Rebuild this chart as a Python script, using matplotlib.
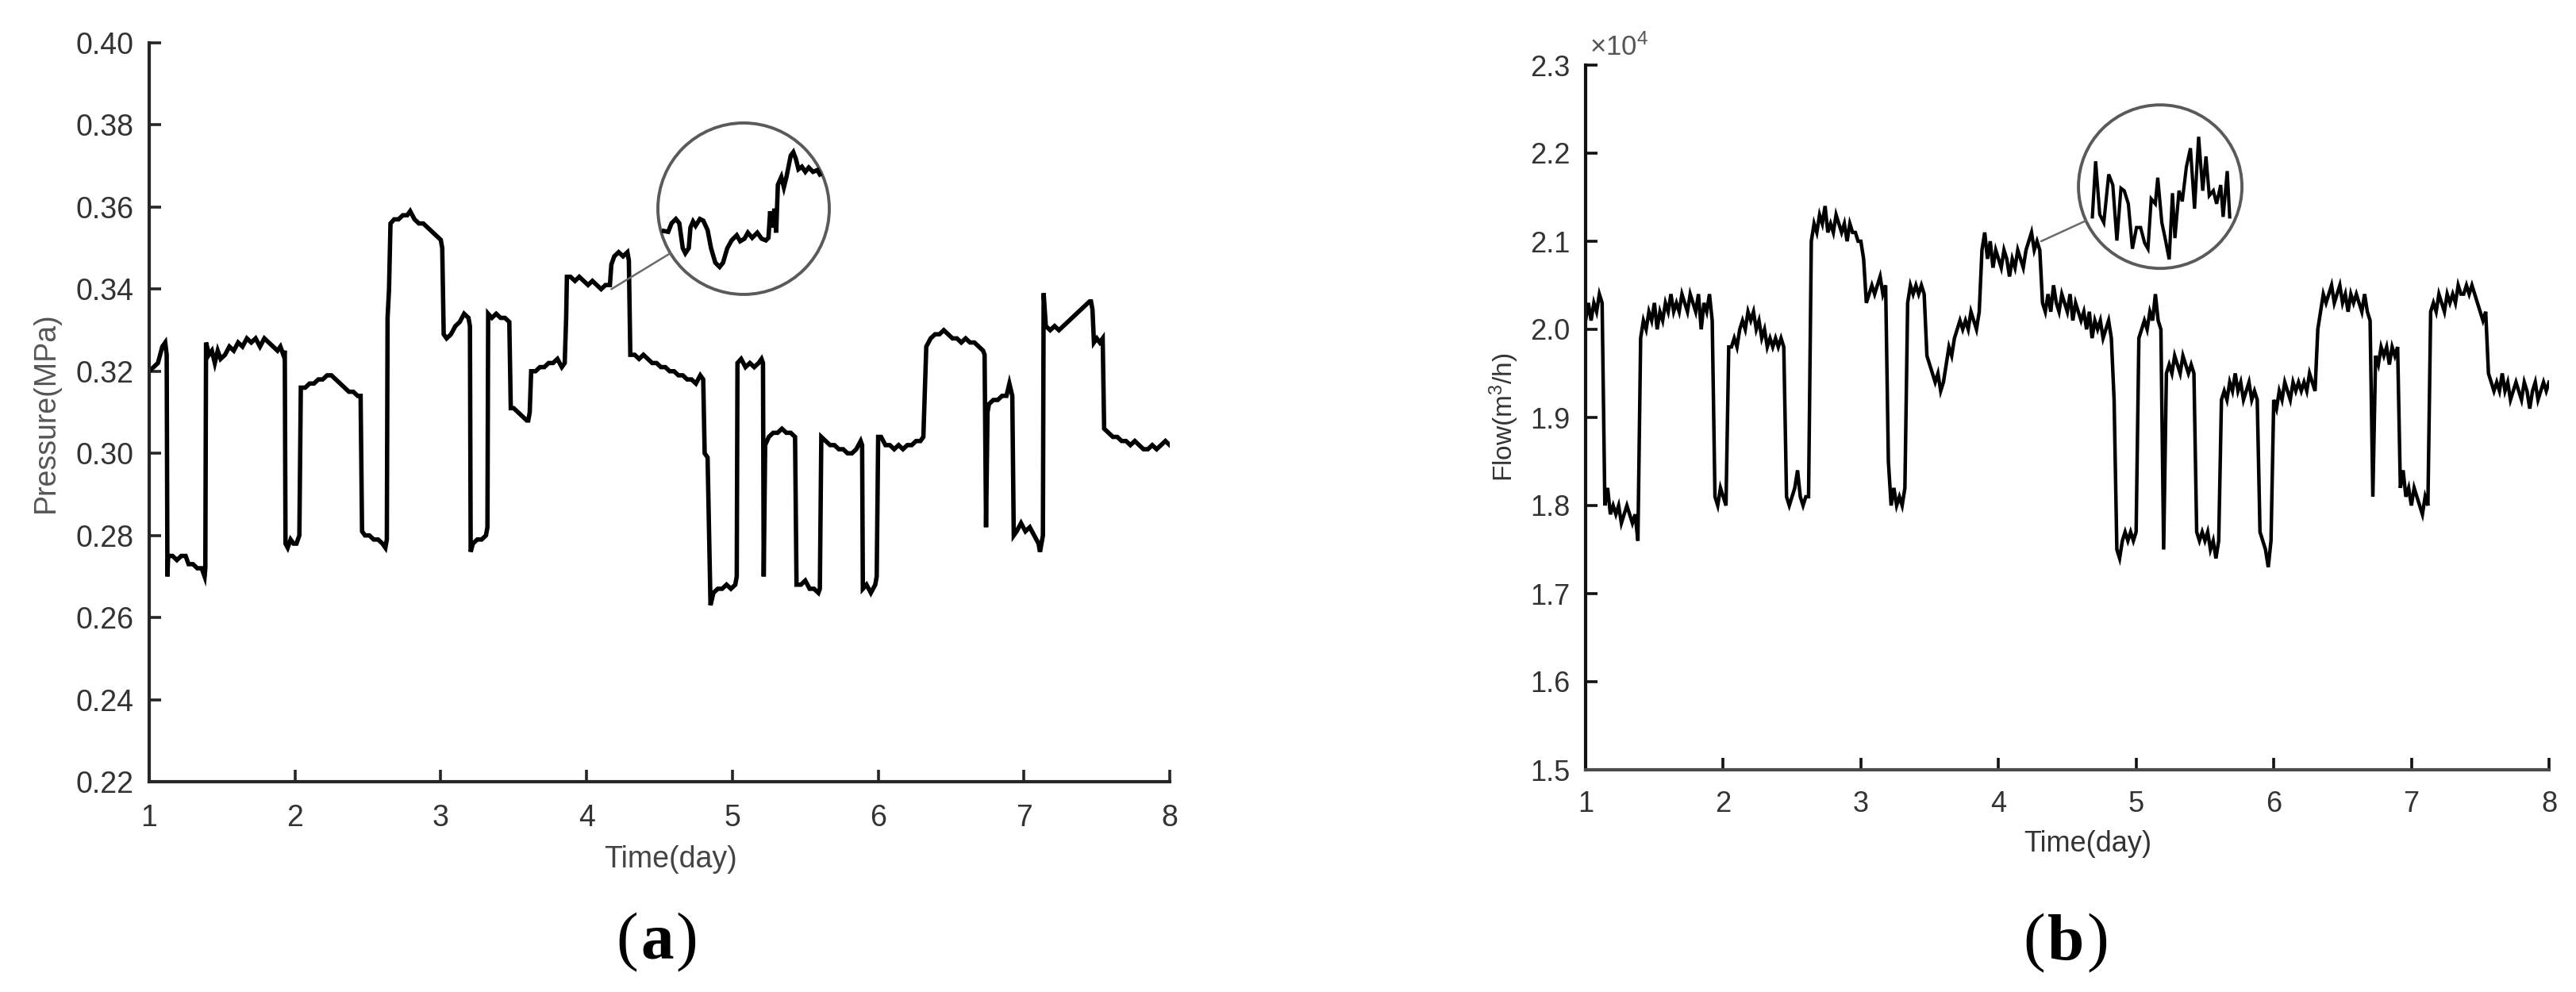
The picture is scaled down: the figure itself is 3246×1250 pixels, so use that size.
import numpy as np
import matplotlib
matplotlib.use("Agg")
import matplotlib.pyplot as plt
from matplotlib.patches import Circle, ConnectionPatch
from matplotlib.offsetbox import TextArea, HPacker, AnnotationBbox

# ---------------- data ----------------
# (a) pressure: breakpoints (day, MPa)
pressure_days = [
    1.00, 1.03, 1.06, 1.09, 1.11, 1.12, 1.125, 1.13, 1.16, 1.19, 1.22, 1.25, 1.27, 1.30, 1.33, 1.36, 1.38, 1.385,
    1.39, 1.41, 1.43, 1.45, 1.47, 1.49, 1.52, 1.55, 1.58, 1.61, 1.64, 1.67, 1.70, 1.73, 1.76, 1.79, 1.82, 1.85,
    1.88, 1.90, 1.92, 1.93, 1.935, 1.95, 1.97, 1.99, 2.01, 2.03, 2.04, 2.07, 2.10, 2.13, 2.16, 2.19, 2.22, 2.25,
    2.28, 2.31, 2.34, 2.37, 2.40, 2.43, 2.45, 2.46, 2.48, 2.51, 2.54, 2.57, 2.60, 2.62, 2.63, 2.635, 2.645, 2.655,
    2.68, 2.71, 2.74, 2.77, 2.79, 2.82, 2.85, 2.88, 2.91, 2.94, 2.97, 3.00, 3.01, 3.02, 3.04, 3.07, 3.10, 3.13,
    3.16, 3.19, 3.20, 3.205, 3.22, 3.25, 3.28, 3.31, 3.32, 3.325, 3.35, 3.38, 3.41, 3.44, 3.47, 3.48, 3.50, 3.53,
    3.56, 3.59, 3.60, 3.61, 3.62, 3.65, 3.68, 3.71, 3.74, 3.77, 3.80, 3.83, 3.85, 3.86, 3.865, 3.89, 3.92, 3.95,
    3.98, 4.01, 4.04, 4.07, 4.10, 4.13, 4.16, 4.17, 4.19, 4.22, 4.25, 4.28, 4.29, 4.30, 4.33, 4.36, 4.39, 4.42,
    4.45, 4.48, 4.51, 4.54, 4.57, 4.60, 4.63, 4.66, 4.69, 4.72, 4.75, 4.78, 4.80, 4.81, 4.83, 4.85, 4.87, 4.90,
    4.93, 4.96, 4.99, 5.02, 5.03, 5.035, 5.06, 5.09, 5.12, 5.15, 5.18, 5.20, 5.21, 5.215, 5.225, 5.25, 5.28, 5.31,
    5.34, 5.37, 5.40, 5.43, 5.44, 5.47, 5.50, 5.53, 5.56, 5.59, 5.60, 5.61, 5.64, 5.67, 5.70, 5.73, 5.76, 5.79,
    5.82, 5.85, 5.88, 5.89, 5.895, 5.92, 5.95, 5.98, 5.99, 6.00, 6.02, 6.05, 6.08, 6.11, 6.14, 6.17, 6.20, 6.23,
    6.26, 6.29, 6.31, 6.33, 6.36, 6.39, 6.42, 6.45, 6.48, 6.51, 6.54, 6.57, 6.60, 6.63, 6.66, 6.69, 6.72, 6.73,
    6.74, 6.75, 6.76, 6.79, 6.82, 6.85, 6.88, 6.90, 6.92, 6.93, 6.95, 6.98, 7.01, 7.04, 7.07, 7.10, 7.11, 7.13,
    7.135, 7.15, 7.18, 7.21, 7.24, 7.27, 7.30, 7.33, 7.36, 7.39, 7.42, 7.45, 7.46, 7.47, 7.48, 7.50, 7.52, 7.54,
    7.55, 7.58, 7.61, 7.64, 7.67, 7.70, 7.73, 7.76, 7.79, 7.82, 7.85, 7.88, 7.91, 7.94, 7.97, 8.00,
]
pressure_mpa = [
    0.320, 0.321, 0.322, 0.326, 0.327, 0.324, 0.270, 0.275, 0.275, 0.274, 0.275, 0.275, 0.273, 0.273, 0.272, 0.272, 0.270, 0.272,
    0.327, 0.324, 0.325, 0.322, 0.325, 0.323, 0.324, 0.326, 0.325, 0.327, 0.326, 0.328, 0.327, 0.328, 0.326, 0.328, 0.327, 0.326,
    0.325, 0.326, 0.324, 0.325, 0.278, 0.277, 0.279, 0.278, 0.278, 0.280, 0.316, 0.316, 0.317, 0.317, 0.318, 0.318, 0.319, 0.319,
    0.318, 0.317, 0.316, 0.315, 0.315, 0.314, 0.314, 0.281, 0.280, 0.280, 0.279, 0.279, 0.278, 0.277, 0.279, 0.333, 0.340, 0.356,
    0.357, 0.357, 0.358, 0.358, 0.359, 0.357, 0.356, 0.356, 0.355, 0.354, 0.353, 0.352, 0.350, 0.329, 0.328, 0.329, 0.331, 0.332,
    0.334, 0.333, 0.331, 0.276, 0.278, 0.279, 0.279, 0.280, 0.282, 0.334, 0.333, 0.334, 0.333, 0.333, 0.332, 0.311, 0.311, 0.310,
    0.309, 0.308, 0.308, 0.310, 0.320, 0.320, 0.321, 0.321, 0.322, 0.322, 0.323, 0.321, 0.322, 0.333, 0.343, 0.343, 0.342, 0.343,
    0.342, 0.341, 0.342, 0.341, 0.340, 0.341, 0.341, 0.346, 0.348, 0.349, 0.348, 0.349, 0.347, 0.324, 0.324, 0.323, 0.324, 0.323,
    0.322, 0.322, 0.321, 0.321, 0.320, 0.320, 0.319, 0.319, 0.318, 0.318, 0.317, 0.319, 0.318, 0.300, 0.299, 0.263, 0.266, 0.267,
    0.267, 0.268, 0.267, 0.268, 0.270, 0.322, 0.323, 0.321, 0.322, 0.321, 0.322, 0.323, 0.322, 0.270, 0.302, 0.304, 0.305, 0.305,
    0.306, 0.305, 0.305, 0.304, 0.268, 0.268, 0.269, 0.267, 0.267, 0.266, 0.267, 0.304, 0.303, 0.302, 0.302, 0.301, 0.301, 0.300,
    0.300, 0.301, 0.303, 0.302, 0.267, 0.268, 0.266, 0.268, 0.270, 0.304, 0.304, 0.302, 0.302, 0.301, 0.302, 0.301, 0.302, 0.302,
    0.303, 0.303, 0.304, 0.326, 0.328, 0.329, 0.329, 0.330, 0.329, 0.328, 0.328, 0.327, 0.328, 0.327, 0.327, 0.326, 0.325, 0.324,
    0.282, 0.310, 0.312, 0.313, 0.313, 0.314, 0.314, 0.317, 0.314, 0.280, 0.281, 0.283, 0.281, 0.282, 0.280, 0.278, 0.276, 0.280,
    0.339, 0.331, 0.330, 0.331, 0.330, 0.331, 0.332, 0.333, 0.334, 0.335, 0.336, 0.337, 0.337, 0.335, 0.327, 0.328, 0.327, 0.328,
    0.306, 0.305, 0.304, 0.304, 0.303, 0.303, 0.302, 0.303, 0.302, 0.301, 0.301, 0.302, 0.301, 0.302, 0.303, 0.302,
]

# (b) flow sampled every 0.02 day from day 1 to day 8, in units of 1e4 m^3/h
flow_step_day = 0.02
flow_1e4 = [
    2.01, 2.03, 2.01, 2.03, 2.02, 2.04, 2.03, 1.80, 1.82, 1.79,
    1.80, 1.79, 1.80, 1.78, 1.79, 1.80, 1.79, 1.78, 1.79, 1.76,
    1.99, 2.01, 2.00, 2.02, 2.01, 2.03, 2.00, 2.02, 2.01, 2.03,
    2.02, 2.04, 2.02, 2.03, 2.02, 2.04, 2.03, 2.02, 2.04, 2.03,
    2.02, 2.04, 2.00, 2.03, 2.02, 2.04, 2.01, 1.81, 1.80, 1.82,
    1.81, 1.80, 1.98, 1.98, 1.99, 1.98, 2.00, 2.01, 2.00, 2.02,
    2.01, 2.02, 2.00, 2.01, 1.99, 2.00, 1.98, 1.99, 1.98, 1.99,
    1.98, 1.99, 1.98, 1.81, 1.80, 1.81, 1.82, 1.84, 1.81, 1.80,
    1.81, 1.81, 2.10, 2.12, 2.11, 2.13, 2.12, 2.14, 2.11, 2.12,
    2.11, 2.13, 2.12, 2.11, 2.12, 2.10, 2.12, 2.11, 2.11, 2.10,
    2.10, 2.08, 2.03, 2.04, 2.05, 2.04, 2.05, 2.06, 2.04, 2.05,
    1.85, 1.80, 1.82, 1.80, 1.81, 1.80, 1.82, 2.03, 2.05, 2.04,
    2.05, 2.04, 2.05, 2.04, 1.97, 1.96, 1.95, 1.94, 1.95, 1.93,
    1.94, 1.96, 1.98, 1.97, 1.99, 2.00, 2.01, 2.00, 2.01, 2.00,
    2.02, 2.01, 2.00, 2.02, 2.09, 2.11, 2.08, 2.10, 2.07, 2.09,
    2.08, 2.07, 2.09, 2.08, 2.06, 2.08, 2.07, 2.09, 2.08, 2.07,
    2.09, 2.10, 2.11, 2.09, 2.10, 2.09, 2.03, 2.02, 2.04, 2.02,
    2.05, 2.03, 2.02, 2.04, 2.03, 2.02, 2.04, 2.01, 2.03, 2.02,
    2.01, 2.02, 2.00, 2.02, 1.99, 2.01, 2.00, 2.01, 1.99, 2.00,
    2.01, 1.99, 1.92, 1.75, 1.74, 1.76, 1.77, 1.76, 1.77, 1.76,
    1.77, 1.99, 2.00, 2.01, 2.00, 2.02, 2.01, 2.04, 2.01, 2.00,
    1.75, 1.95, 1.96, 1.95, 1.97, 1.96, 1.95, 1.97, 1.96, 1.95,
    1.96, 1.95, 1.77, 1.76, 1.77, 1.76, 1.77, 1.75, 1.76, 1.74,
    1.76, 1.92, 1.93, 1.92, 1.94, 1.93, 1.95, 1.93, 1.94, 1.92,
    1.93, 1.94, 1.92, 1.93, 1.92, 1.77, 1.76, 1.75, 1.73, 1.76,
    1.92, 1.91, 1.93, 1.92, 1.94, 1.93, 1.92, 1.94, 1.93, 1.94,
    1.93, 1.94, 1.93, 1.95, 1.94, 1.93, 2.00, 2.02, 2.04, 2.03,
    2.04, 2.05, 2.03, 2.04, 2.05, 2.03, 2.04, 2.02, 2.04, 2.03,
    2.04, 2.03, 2.02, 2.04, 2.02, 2.01, 1.81, 1.97, 1.96, 1.98,
    1.97, 1.98, 1.96, 1.98, 1.97, 1.98, 1.82, 1.84, 1.81, 1.82,
    1.80, 1.82, 1.81, 1.80, 1.79, 1.81, 1.80, 2.02, 2.03, 2.02,
    2.04, 2.03, 2.02, 2.04, 2.03, 2.04, 2.03, 2.05, 2.04, 2.04,
    2.05, 2.04, 2.05, 2.04, 2.03, 2.02, 2.01, 2.02, 1.95, 1.94,
    1.93, 1.94, 1.93, 1.95, 1.93, 1.94, 1.92, 1.93, 1.94, 1.93,
    1.92, 1.94, 1.93, 1.91, 1.93, 1.94, 1.92, 1.93, 1.94, 1.93,
    1.94,
]
flow_days = 1.0 + flow_step_day * np.arange(len(flow_1e4))

# magnifier contents (normalized coordinates inside the circle, -1..1)
zoom_a_u = [-0.93, -0.88, -0.84, -0.79, -0.75, -0.71, -0.68, -0.64, -0.62, -0.59, -0.56, -0.51, -0.47, -0.42,
            -0.38, -0.33, -0.28, -0.24, -0.19, -0.14, -0.08, -0.04, 0.01, 0.05, 0.10, 0.16, 0.21, 0.26, 0.29,
            0.31, 0.33, 0.36, 0.38, 0.40, 0.44, 0.47, 0.50, 0.55, 0.58, 0.61, 0.64, 0.68, 0.72, 0.76, 0.81, 0.86, 0.89]
zoom_a_v = [-0.26, -0.27, -0.17, -0.12, -0.17, -0.46, -0.52, -0.46, -0.22, -0.15, -0.20, -0.12, -0.14, -0.25,
            -0.46, -0.63, -0.68, -0.63, -0.46, -0.37, -0.31, -0.38, -0.35, -0.28, -0.34, -0.28, -0.35, -0.37, -0.34,
            -0.03, -0.22, 0.00, -0.28, 0.28, 0.37, 0.25, 0.37, 0.62, 0.66, 0.58, 0.46, 0.49, 0.43, 0.48, 0.43, 0.45, 0.40]
zoom_b_u = [-0.83, -0.79, -0.74, -0.69, -0.63, -0.58, -0.53, -0.48, -0.44, -0.39, -0.34, -0.29, -0.24, -0.19,
            -0.15, -0.11, -0.06, -0.03, 0.02, 0.06, 0.11, 0.15, 0.18, 0.23, 0.27, 0.32, 0.37, 0.42, 0.47, 0.52,
            0.56, 0.60, 0.65, 0.69, 0.74, 0.77, 0.82, 0.85]
zoom_b_v = [-0.37, 0.31, -0.34, -0.44, 0.15, 0.02, -0.66, -0.02, -0.05, -0.21, -0.76, -0.50, -0.50, -0.69,
            -0.76, -0.15, -0.21, 0.11, -0.44, -0.63, -0.89, -0.08, -0.63, -0.05, -0.18, 0.24, 0.47, -0.27, 0.61, -0.05,
            0.37, -0.11, -0.05, -0.21, 0.02, -0.37, 0.19, -0.37]

x_ticks = [1, 2, 3, 4, 5, 6, 7, 8]
pressure_ticks = [0.22, 0.24, 0.26, 0.28, 0.30, 0.32, 0.34, 0.36, 0.38, 0.40]
flow_ticks = [1.5, 1.6, 1.7, 1.8, 1.9, 2.0, 2.1, 2.2, 2.3]

# ---------------- style ----------------
plt.rcParams['font.family'] = ['Liberation Sans', 'DejaVu Sans']
plt.rcParams['mathtext.fontset'] = 'custom'
plt.rcParams['mathtext.rm'] = 'Liberation Sans'
plt.rcParams['mathtext.it'] = 'Liberation Sans'

W, H, DPI = 3246, 1250, 100
fig = plt.figure(figsize=(W / DPI, H / DPI), dpi=DPI)


def px_axes(l, t, r, b):
    return fig.add_axes([l / W, 1 - b / H, (r - l) / W, (b - t) / H])


def style_axes(ax, left_col, bottom_col, tick_col, pad_x, pad_y, fs):
    for s in ('top', 'right'):
        ax.spines[s].set_visible(False)
    ax.spines['left'].set_color(left_col)
    ax.spines['bottom'].set_color(bottom_col)
    for s in ('left', 'bottom'):
        ax.spines[s].set_linewidth(3.0)
    ax.tick_params(direction='in', length=11, width=2.6, labelsize=fs, labelcolor=tick_col, color=left_col)
    ax.tick_params(axis='x', pad=pad_x)
    ax.tick_params(axis='y', pad=pad_y)


def magnifier(ax, center, radius_px, source, u, v, lw, circ_lw):
    cx, cy = ax.transData.transform(center)
    inv = ax.transAxes.inverted()
    x0, y0 = inv.transform((cx - radius_px, cy - radius_px))
    x1, y1 = inv.transform((cx + radius_px, cy + radius_px))
    ins = ax.inset_axes([x0, y0, x1 - x0, y1 - y0])
    ins.set_xlim(-1, 1)
    ins.set_ylim(-1, 1)
    ins.axis('off')
    circ = Circle((0.5, 0.5), 0.5, transform=ins.transAxes, fill=False, ec='#5a5a5a', lw=circ_lw, clip_on=False)
    ins.add_patch(circ)
    line, = ins.plot(u, v, color='black', lw=lw, solid_joinstyle='miter')
    line.set_clip_path(circ)
    sx, sy = ax.transData.transform(source)
    ang = np.arctan2(sy - cy, sx - cx)
    edge = (0.5 + 0.5 * np.cos(ang), 0.5 + 0.5 * np.sin(ang))
    con = ConnectionPatch(xyA=source, coordsA=ax.transData, xyB=edge, coordsB=ins.transAxes,
                          color='#6a6a6a', lw=1.8)
    fig.add_artist(con)


def panel_tag(x, y, letter):
    tp = dict(family='Liberation Serif', size=60, color='black')
    parts = [TextArea('(', textprops=tp),
             TextArea(letter, textprops=dict(tp, weight='bold')),
             TextArea(')', textprops=tp)]
    box = HPacker(children=parts, align='baseline', pad=0, sep=2)
    ab = AnnotationBbox(box, (x, y), xycoords='figure fraction', frameon=False, box_alignment=(0.5, 0.5))
    fig.add_artist(ab)


# ---------------- panel (a) ----------------
axa = px_axes(188, 54, 1474, 985)
axa.plot(pressure_days, pressure_mpa, color='black', lw=4.0, solid_joinstyle='miter')
axa.set_xlim(1, 8)
axa.set_ylim(0.22, 0.40)
axa.set_xticks(x_ticks)
axa.set_yticks(pressure_ticks)
axa.set_yticklabels([f'{t:.2f}' for t in pressure_ticks])
style_axes(axa, '#262626', '#262626', '#333333', 20, 14, 27)
axa.text(0.511, -0.105, 'Time(day)', transform=axa.transAxes, ha='center', va='center', fontsize=27, color='#444444')
axa.text(-0.101, 0.5, 'Pressure(MPa)', transform=axa.transAxes, ha='center', va='center', rotation=90,
         fontsize=27, color='#555555')
magnifier(axa, (5.077, 0.3596), 108, (4.17, 0.340), zoom_a_u, zoom_a_v, 4.0, 2.8)

# ---------------- panel (b) ----------------
axb = px_axes(1998, 82, 3212, 970)
axb.plot(flow_days, flow_1e4, color='black', lw=3.2, solid_joinstyle='miter')
axb.set_xlim(1, 8)
axb.set_ylim(1.5, 2.3)
axb.set_xticks(x_ticks)
axb.set_yticks(flow_ticks)
axb.set_yticklabels([f'{t:.1f}' for t in flow_ticks])
style_axes(axb, '#111111', '#4a4a4a', '#333333', 19, 14, 26)
axb.text(0.521, -0.105, 'Time(day)', transform=axb.transAxes, ha='center', va='center', fontsize=26, color='#333333')
axb.text(-0.085, 0.5, r'Flow(m$^3$/h)', transform=axb.transAxes, ha='center', va='center', rotation=90,
         fontsize=24, color='#333333')
axb.text(0.004, 1.006, r'$\times10^4$', transform=axb.transAxes, ha='left', va='bottom', fontsize=25, color='#555555')
magnifier(axb, (5.175, 2.162), 103, (4.31, 2.10), zoom_b_u, zoom_b_v, 3.0, 2.8)

# ---------------- panel tags ----------------
panel_tag(828 / W, 1 - 1188 / H, 'a')
panel_tag(2603 / W, 1 - 1189 / H, 'b')

fig.savefig('out.png', dpi=DPI)
